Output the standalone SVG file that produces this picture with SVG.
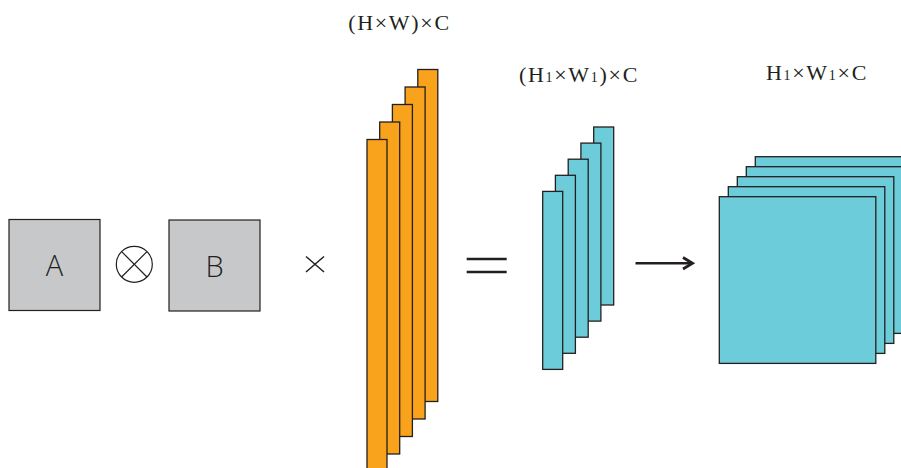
<svg xmlns="http://www.w3.org/2000/svg" width="901" height="468" viewBox="0 0 901 468">
<style>
.or{fill:#F9A21B;stroke:#231F20;stroke-width:1.3}
.cy{fill:#6CCCDA;stroke:#231F20;stroke-width:1.3}
.gr{fill:#C7C8CA;stroke:#231F20;stroke-width:1.2}
.lbl{font-family:"Open Sans","Noto Sans","Liberation Sans",sans-serif;font-weight:300;font-size:29px;fill:#231F20;text-anchor:middle}
.dim{font-family:"Liberation Serif","Times New Roman",serif;font-size:22px;letter-spacing:1.7px;fill:#231F20;text-anchor:middle}
.sub{font-size:14px}
.op{stroke:#231F20;fill:none}
</style>
<rect width="901" height="468" fill="#fff"/>
<g id="nodeA"><rect class="gr" x="9" y="219.5" width="91" height="91"/><text class="lbl" x="54.5" y="276">A</text></g>
<g id="otimes"><circle class="op" cx="134.3" cy="264.3" r="18" stroke-width="1.2"/><line class="op" x1="121.6" y1="251.6" x2="147" y2="277" stroke-width="1.2"/><line class="op" x1="147" y1="251.6" x2="121.6" y2="277" stroke-width="1.2"/></g>
<g id="nodeB"><rect class="gr" x="169" y="220" width="91" height="91"/><text class="lbl" x="214.5" y="276.5">B</text></g>
<g id="times"><line class="op" x1="306" y1="256.5" x2="324" y2="272" stroke-width="1.5"/><line class="op" x1="324" y1="256.5" x2="306" y2="272" stroke-width="1.5"/></g>
<g id="stackHW">
<rect class="or" x="417.8" y="69.5" width="20" height="332"/>
<rect class="or" x="405.1" y="87" width="20" height="332"/>
<rect class="or" x="392.4" y="104.5" width="20" height="332"/>
<rect class="or" x="379.7" y="122" width="20" height="332"/>
<rect class="or" x="367" y="139.5" width="20" height="332"/>
<text class="dim" x="399.5" y="30">(H×W)×C</text>
</g>
<g id="equals"><line class="op" x1="466.7" y1="259" x2="506.7" y2="259" stroke-width="2.6"/><line class="op" x1="466.7" y1="272" x2="506.7" y2="272" stroke-width="2.6"/></g>
<g id="stackH1W1">
<rect class="cy" x="593.7" y="127" width="20" height="178"/>
<rect class="cy" x="580.9" y="143.1" width="20" height="178"/>
<rect class="cy" x="568.2" y="159.2" width="20" height="178"/>
<rect class="cy" x="555.4" y="175.3" width="20" height="178"/>
<rect class="cy" x="542.7" y="191.4" width="20" height="178"/>
<text class="dim" x="579" y="81.5">(H<tspan class="sub">1</tspan>×W<tspan class="sub">1</tspan>)×C</text>
</g>
<g id="connectors"><line class="op" x1="635.5" y1="263.3" x2="692" y2="263.3" stroke-width="2.6"/><polyline class="op" points="683,257.5 692.5,263.3 683,269" stroke-width="2.8"/></g>
<g id="stackOut">
<rect class="cy" x="755.3" y="156.7" width="156.5" height="166.7"/>
<rect class="cy" x="746.3" y="166.7" width="156.5" height="166.7"/>
<rect class="cy" x="737.3" y="176.7" width="156.5" height="166.7"/>
<rect class="cy" x="728.3" y="186.7" width="156.5" height="166.7"/>
<rect class="cy" x="719.3" y="196.7" width="156.5" height="166.7"/>
<text class="dim" x="817" y="79.5">H<tspan class="sub">1</tspan>×W<tspan class="sub">1</tspan>×C</text>
</g>
</svg>
